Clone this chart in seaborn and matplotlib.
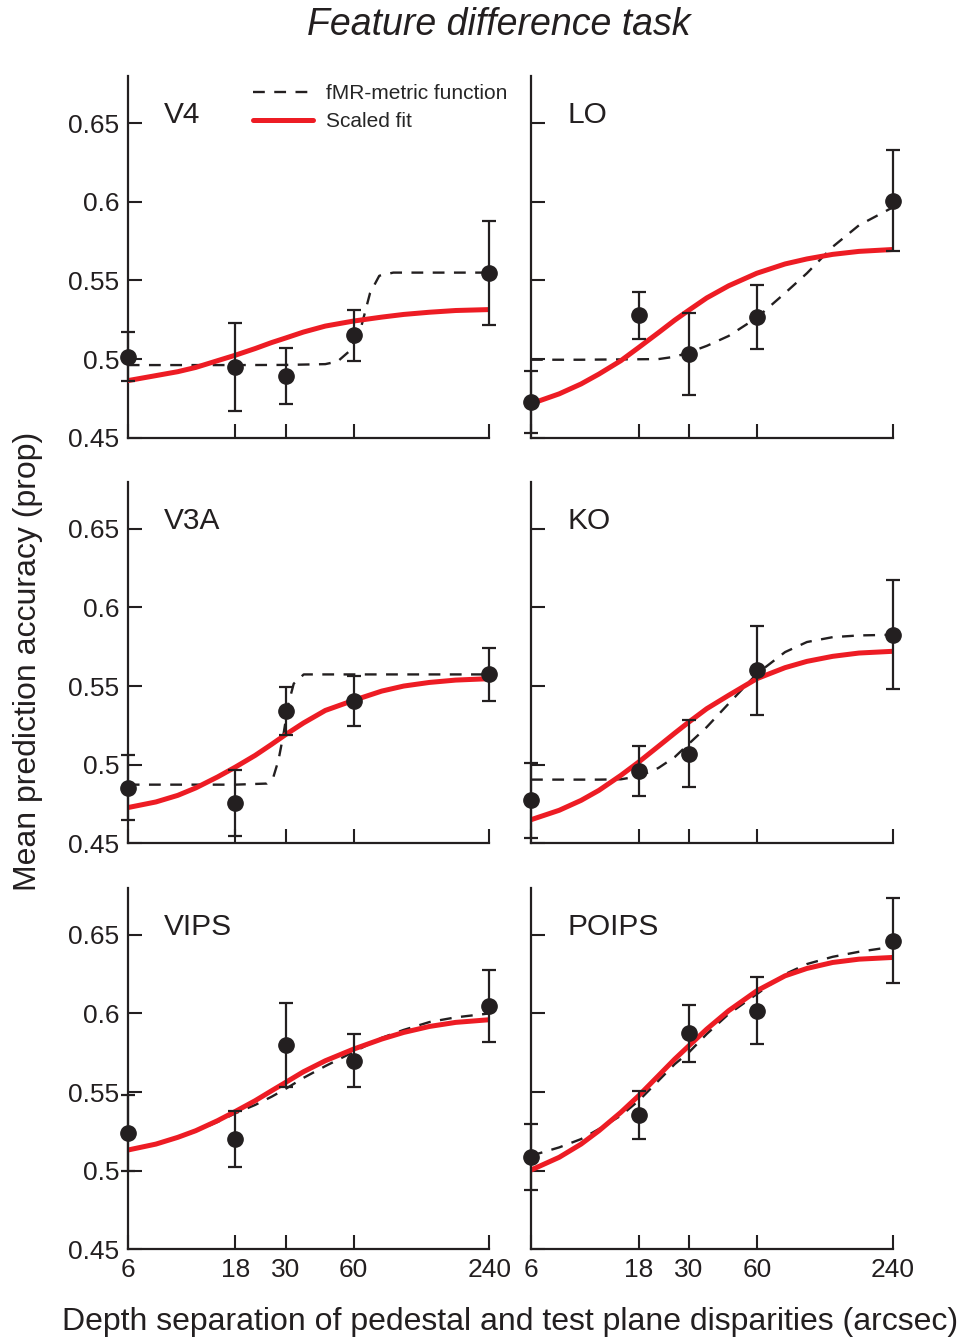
import seaborn as sns
import matplotlib.pyplot as plt
from matplotlib.ticker import NullLocator

# disparities tested (arcsec) and the x positions
disp = [6, 18, 30, 60, 240]
curve_x = [6, 8, 10, 12, 15, 18, 22, 26, 30, 36, 45, 60, 80, 100, 130, 170, 240]

ytick_vals = [0.45, 0.5, 0.55, 0.6, 0.65]
ytick_text = ['0.45', '0.5', '0.55', '0.6', '0.65']
xtick_text = ['6', '18', '30', '60', '240']

v4_mean = [0.5015, 0.4947, 0.4891, 0.5151, 0.5546]
v4_err = [0.0157, 0.028, 0.0179, 0.0163, 0.033]
v4_fit = [0.4863, 0.4895, 0.492, 0.4947, 0.499, 0.5025, 0.5067, 0.5105, 0.5134,
          0.5172, 0.521, 0.5242, 0.5267, 0.5284, 0.5298, 0.5309, 0.5315]
v4_metric_x = [6, 18, 30, 45, 51, 58, 65, 71, 78, 90, 240]
v4_metric = [0.4962, 0.4962, 0.4963, 0.4968, 0.4985, 0.5055, 0.521, 0.542, 0.553, 0.555, 0.555]

lo_mean = [0.4727, 0.5279, 0.5032, 0.5269, 0.6008]
lo_err = [0.020, 0.015, 0.026, 0.0205, 0.032]
lo_fit = [0.4716, 0.4779, 0.4842, 0.4905, 0.499, 0.5074, 0.5168, 0.5248, 0.5311,
          0.5389, 0.5466, 0.5546, 0.5605, 0.5637, 0.5666, 0.5685, 0.5697]
lo_metric = [0.4996, 0.4996, 0.4996, 0.4997, 0.4998, 0.4999, 0.5, 0.5015, 0.5042,
             0.5084, 0.5147, 0.5263, 0.542, 0.5546, 0.5714, 0.5851, 0.5965]

v3a_mean = [0.4854, 0.4758, 0.5341, 0.5405, 0.5574]
v3a_err = [0.0205, 0.021, 0.0152, 0.0157, 0.0168]
v3a_fit = [0.4727, 0.4763, 0.4805, 0.4852, 0.4922, 0.4985, 0.5059, 0.5129, 0.5191,
           0.5265, 0.5345, 0.5409, 0.5468, 0.55, 0.5523, 0.5538, 0.5547]
v3a_metric_x = [6, 18, 24.8, 26.5, 27.9, 29.4, 30.9, 32.6, 36.1, 240]
v3a_metric = [0.4873, 0.4873, 0.488, 0.4922, 0.5028, 0.5197, 0.5388, 0.5515, 0.5574, 0.5574]

ko_mean = [0.4773, 0.4958, 0.507, 0.56, 0.5826]
ko_err = [0.0238, 0.0159, 0.0215, 0.0283, 0.0347]
ko_fit = [0.465, 0.471, 0.4773, 0.4837, 0.4932, 0.5017, 0.5117, 0.5201, 0.5271,
          0.5356, 0.5441, 0.5547, 0.5617, 0.5657, 0.5689, 0.571, 0.5721]
ko_metric = [0.4905, 0.4905, 0.4905, 0.4905, 0.4907, 0.4926, 0.4979, 0.5049, 0.5133,
             0.5239, 0.5388, 0.5578, 0.5716, 0.578, 0.5811, 0.5822, 0.5826]

vips_mean = [0.5239, 0.5201, 0.5799, 0.5699, 0.6049]
vips_err = [0.024, 0.0176, 0.0267, 0.0167, 0.0228]
vips_fit = [0.5131, 0.5169, 0.5212, 0.5254, 0.5318, 0.5377, 0.5445, 0.5508, 0.5561,
            0.5629, 0.5699, 0.5773, 0.5837, 0.5879, 0.5917, 0.5943, 0.596]
vips_metric = [0.5131, 0.5169, 0.521, 0.525, 0.531, 0.5365, 0.5418, 0.547, 0.552,
               0.559, 0.5665, 0.5755, 0.5845, 0.5895, 0.5945, 0.5975, 0.600]

poips_mean = [0.5085, 0.5354, 0.5873, 0.6017, 0.6462]
poips_err = [0.021, 0.015, 0.018, 0.0212, 0.0271]
poips_fit = [0.5004, 0.5085, 0.5169, 0.5254, 0.5371, 0.5477, 0.5604, 0.571, 0.5794,
             0.59, 0.6017, 0.6144, 0.6239, 0.6286, 0.6324, 0.6345, 0.6356]
poips_metric = [0.5095, 0.5148, 0.5201, 0.5265, 0.535, 0.5445, 0.5572, 0.5678, 0.5752,
                0.5869, 0.5996, 0.6123, 0.625, 0.6314, 0.636, 0.6392, 0.6424]

panels = [
    ('V4', v4_mean, v4_err, v4_fit, v4_metric_x, v4_metric),
    ('LO', lo_mean, lo_err, lo_fit, curve_x, lo_metric),
    ('V3A', v3a_mean, v3a_err, v3a_fit, v3a_metric_x, v3a_metric),
    ('KO', ko_mean, ko_err, ko_fit, curve_x, ko_metric),
    ('VIPS', vips_mean, vips_err, vips_fit, curve_x, vips_metric),
    ('POIPS', poips_mean, poips_err, poips_fit, curve_x, poips_metric),
]

sns.set_style('ticks')
plt.rcParams['font.family'] = ['Liberation Sans', 'DejaVu Sans']

RED = '#ED1C24'
INK = '#231F20'

fig = plt.figure(figsize=(9.72, 13.39), dpi=100)
lefts = [0.1314, 0.5463]
bottoms = [0.6731, 0.3702, 0.0670]
w, h = 0.3722, 0.2701

for i, (name, mean, err, fit, mx, metric) in enumerate(panels):
    row, col = divmod(i, 2)
    ax = fig.add_axes([lefts[col], bottoms[row], w, h])

    sns.lineplot(x=mx, y=metric, ax=ax, color=INK, lw=1.7,
                 linestyle=(0, (5, 4)), label='fMR-metric function', zorder=2)
    sns.lineplot(x=curve_x, y=fit, ax=ax, color=RED, lw=3.6,
                 label='Scaled fit', zorder=3)
    ax.errorbar(disp, mean, yerr=err, fmt='o', color=INK, ms=11, elinewidth=1.6,
                capsize=4.7, capthick=1.6, zorder=4, clip_on=False)

    ax.set_xscale('log')
    ax.set_xlim(6, 240)
    ax.set_ylim(0.45, 0.68)
    ax.set_xticks(disp)
    ax.xaxis.set_minor_locator(NullLocator())
    ax.set_yticks(ytick_vals)
    ax.set_xlabel('')
    ax.set_ylabel('')

    if row == 2:
        ax.set_xticklabels(xtick_text)
    else:
        ax.set_xticklabels([])
    if col == 0:
        ax.set_yticklabels(ytick_text)
    else:
        ax.set_yticklabels([])

    ax.tick_params(direction='in', length=10, width=1.5, color=INK,
                   labelsize=19, pad=6, labelcolor=INK)
    sns.despine(ax=ax)
    for s in ['left', 'bottom']:
        ax.spines[s].set_linewidth(1.6)
        ax.spines[s].set_color(INK)

    ax.text(0.10, 0.87, name, transform=ax.transAxes, fontsize=21.5,
            color=INK, va='baseline', ha='left')

    if i == 0:
        ax.legend(loc='upper left', bbox_to_anchor=(0.346, 0.978), frameon=False,
                  fontsize=15, handlelength=2.9, handletextpad=0.6,
                  labelspacing=0.45, borderpad=0, borderaxespad=0)
    else:
        ax.get_legend().remove()

fig.text(0.513, 0.981, 'Feature difference task', fontsize=27, style='italic',
         ha='center', va='center', color=INK)
fig.text(0.029, 0.506, 'Mean prediction accuracy (prop)', fontsize=23,
         rotation=90, ha='center', va='center', color=INK)
fig.text(0.525, 0.0125, 'Depth separation of pedestal and test plane disparities (arcsec)',
         fontsize=23, ha='center', va='center', color=INK)

fig.savefig('out.png', dpi=100)
